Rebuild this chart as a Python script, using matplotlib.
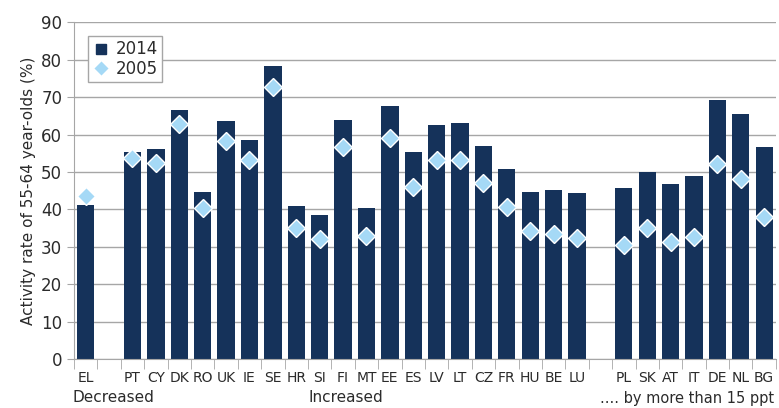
import numpy as np
import matplotlib
matplotlib.use("Agg")
from matplotlib import pyplot as plt
from matplotlib.lines import Line2D

# empty strings are the blank slots between the three groups
countries = ["EL", "", "PT", "CY", "DK", "RO", "UK", "IE", "SE", "HR", "SI", "FI", "MT",
             "EE", "ES", "LV", "LT", "CZ", "FR", "HU", "BE", "LU", "",
             "PL", "SK", "AT", "IT", "DE", "NL", "BG"]
rate_2014 = [41.2, np.nan, 55.3, 56.1, 66.5, 44.7, 63.6, 58.5, 78.3, 40.9, 38.5, 63.9, 40.4,
             67.6, 55.3, 62.5, 63.0, 56.9, 50.8, 44.7, 45.2, 44.4, np.nan,
             45.7, 50.0, 46.8, 48.9, 69.2, 65.5, 56.7]
rate_2005 = [43.6, np.nan, 53.7, 52.5, 62.9, 40.5, 58.4, 53.1, 72.6, 35.1, 32.1, 56.7, 33.0,
             59.0, 46.1, 53.2, 53.2, 47.0, 40.7, 34.3, 33.4, 32.5, np.nan,
             30.5, 35.1, 31.2, 32.6, 52.1, 48.1, 38.1]
group_labels = ["Decreased", "Increased", ".... by more than 15 ppt"]

BAR_COLOR = "#15325a"
DIAMOND_COLOR = "#a5d9f6"
GRID_COLOR = "#a6a6a6"
TEXT_COLOR = "#2b2b2b"

fig = plt.figure(figsize=(7.79, 4.08), dpi=100)
ax = fig.add_axes([0.095, 0.119, 0.901, 0.827])

x = np.arange(len(countries))
ax.bar(x, rate_2014, width=0.74, color=BAR_COLOR, zorder=2)
ax.plot(x, rate_2005, linestyle="none", marker="D", markersize=9,
        markerfacecolor=DIAMOND_COLOR, markeredgecolor="white", markeredgewidth=1, zorder=3)

ax.set_xlim(-0.5, len(countries) - 0.5)
ax.set_ylim(0, 90)
ax.set_yticks(range(0, 91, 10))
ax.yaxis.grid(True, color=GRID_COLOR, linewidth=1)
ax.set_axisbelow(True)

for s in ["top", "right"]:
    ax.spines[s].set_visible(False)
ax.spines["left"].set_color(GRID_COLOR)
ax.spines["bottom"].set_color(GRID_COLOR)

ax.set_xticks(x)
ax.set_xticklabels(countries, fontsize=10, color=TEXT_COLOR, family=["Liberation Sans Narrow", "DejaVu Sans"])
ax.tick_params(axis="x", length=0, pad=8)
ax.set_xticks(np.arange(-0.5, len(countries)), minor=True)
ax.tick_params(axis="x", which="minor", length=7, color=GRID_COLOR)
ax.tick_params(axis="y", labelsize=12, labelcolor=TEXT_COLOR, color=GRID_COLOR, length=5)

ax.set_ylabel("Activity rate of 55-64 year-olds (%)", fontsize=11, color=TEXT_COLOR)

# group captions under the country codes
fig.text(73 / 779, 1 - 398 / 408, group_labels[0], fontsize=11, color=TEXT_COLOR, va="center")
fig.text(346 / 779, 1 - 398 / 408, group_labels[1], fontsize=11, color=TEXT_COLOR, va="center", ha="center")
fig.text(600 / 779, 1 - 398 / 408, group_labels[2], fontsize=10.5, color=TEXT_COLOR, va="center")

handles = [Line2D([], [], linestyle="none", marker="s", markersize=7, color=BAR_COLOR),
           Line2D([], [], linestyle="none", marker="D", markersize=8,
                  markerfacecolor=DIAMOND_COLOR, markeredgecolor="white")]
leg = ax.legend(handles, ["2014", "2005"], loc="upper left", bbox_to_anchor=(0.02, 0.958),
                borderaxespad=0, fontsize=12, fancybox=False, edgecolor=GRID_COLOR, framealpha=1,
                handlelength=1, handletextpad=0.4, borderpad=0.25, labelspacing=0.1)
for t in leg.get_texts():
    t.set_color(TEXT_COLOR)

fig.savefig("out.png", dpi=100)
